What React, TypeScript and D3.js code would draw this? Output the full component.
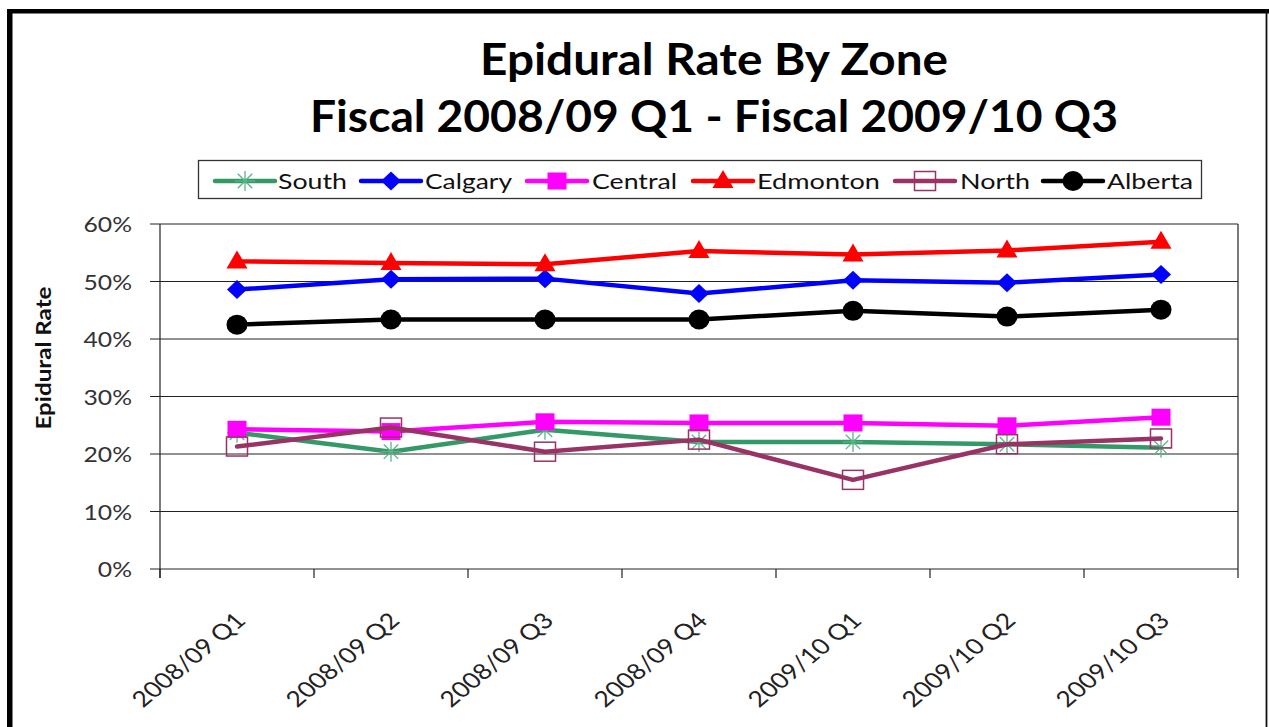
import React from 'react';
import * as d3 from 'd3';

const categories = ['2008/09 Q1', '2008/09 Q2', '2008/09 Q3', '2008/09 Q4', '2009/10 Q1', '2009/10 Q2', '2009/10 Q3'];
const south = [23.7, 20.4, 24.2, 22.1, 22.1, 21.7, 21.1];
const calgary = [48.6, 50.4, 50.5, 47.9, 50.2, 49.8, 51.2];
const central = [24.3, 23.9, 25.6, 25.4, 25.4, 24.9, 26.4];
const edmonton = [53.5, 53.2, 53.0, 55.3, 54.7, 55.4, 56.9];
const north = [21.3, 24.6, 20.4, 22.5, 15.5, 21.7, 22.7];
const alberta = [42.5, 43.4, 43.4, 43.4, 44.9, 43.9, 45.1];
const yTicks = [0, 10, 20, 30, 40, 50, 60];
const seriesNames = ['South', 'Calgary', 'Central', 'Edmonton', 'North', 'Alberta'];
const seriesValues = [south, calgary, central, edmonton, north, alberta];
const seriesColors = ['#339966', '#0000FF', '#FF00FF', '#FF0000', '#993366', '#000000'];
const seriesMarkers = ['asterisk', 'diamond', 'square', 'triangle', 'hollowSquare', 'circle'];
const titleLines = ['Epidural Rate By Zone', 'Fiscal 2008/09 Q1 - Fiscal 2009/10 Q3'];
const yAxisTitle = 'Epidural Rate';

const W = 1269;
const H = 727;
const FONT = "Lato, 'Open Sans', 'DejaVu Sans', sans-serif";
const plot = { left: 160, right: 1238, top: 224, bottom: 569 };

const x = d3.scaleBand<string>().domain(categories).range([plot.left, plot.right]).padding(0);
const y = d3.scaleLinear().domain([0, 60]).range([plot.bottom, plot.top]);
const cx = (c: string) => (x(c) as number) + x.bandwidth() / 2;

function Marker({ type, color, px, py }: { type: string; color: string; px: number; py: number }) {
  switch (type) {
    case 'asterisk': {
      const r = 10;
      const c = '#5cb487';
      return (
        <g stroke={c} strokeWidth={1.3}>
          <line x1={px - r} y1={py} x2={px + r} y2={py} />
          <line x1={px} y1={py - r} x2={px} y2={py + r} />
          <line x1={px - r * 0.72} y1={py - r * 0.72} x2={px + r * 0.72} y2={py + r * 0.72} />
          <line x1={px - r * 0.72} y1={py + r * 0.72} x2={px + r * 0.72} y2={py - r * 0.72} />
        </g>
      );
    }
    case 'diamond':
      return <path d={`M${px},${py - 9.5}L${px + 10},${py}L${px},${py + 9.5}L${px - 10},${py}Z`} fill={color} />;
    case 'square':
      return <rect x={px - 9.5} y={py - 8.5} width={19} height={17} fill={color} />;
    case 'triangle':
      return <path d={`M${px},${py - 11}L${px + 10.5},${py + 7}L${px - 10.5},${py + 7}Z`} fill={color} />;
    case 'hollowSquare':
      return <rect x={px - 10.5} y={py - 9.5} width={21} height={19} fill="none" stroke={color} strokeWidth={1.5} />;
    case 'circle':
      return <ellipse cx={px} cy={py} rx={10.5} ry={10} fill={color} />;
    default:
      return null;
  }
}

const legendItems = [
  { lx: 215, tx: 278, tw: 69 },
  { lx: 361, tx: 425, tw: 87 },
  { lx: 527, tx: 592, tw: 85 },
  { lx: 693, tx: 757, tw: 123 },
  { lx: 895, tx: 960, tw: 70 },
  { lx: 1043, tx: 1107, tw: 86 },
];

export default function App() {
  const line = d3
    .line<number>()
    .x((_, i) => cx(categories[i]))
    .y((d) => y(d));

  return (
    <svg width={W} height={H} style={{ position: 'absolute', left: 0, top: 0, background: '#fff' }} fontFamily={FONT}>
      <rect x={0} y={0} width={W} height={H} fill="#fff" />
      {/* outer frame */}
      <rect x={7} y={9} width={5.5} height={H} fill="#000" />
      <rect x={7} y={9} width={W - 7} height={4.5} fill="#000" />
      <line x1={1266.5} y1={9} x2={1266.5} y2={H} stroke="#111" strokeWidth={1.8} />

      {/* title */}
      <text x={714} y={75} textAnchor="middle" fontSize={43} fontWeight="bold" textLength={468} lengthAdjust="spacingAndGlyphs">
        {titleLines[0]}
      </text>
      <text x={714} y={132} textAnchor="middle" fontSize={43} fontWeight="bold" textLength={808} lengthAdjust="spacingAndGlyphs">
        {titleLines[1]}
      </text>

      {/* legend */}
      <rect x={198.5} y={160.5} width={1003} height={38} fill="#fff" stroke="#333" strokeWidth={1.3} />
      {seriesNames.map((name, i) => {
        const it = legendItems[i];
        return (
          <g key={name}>
            <line x1={it.lx} y1={181} x2={it.lx + 60} y2={181} stroke={seriesColors[i]} strokeWidth={4.5} strokeLinecap="round" />
            <Marker type={seriesMarkers[i]} color={seriesColors[i]} px={it.lx + 30} py={181} />
            <text x={it.tx} y={189} fontSize={22} fill="#111" textLength={it.tw} lengthAdjust="spacingAndGlyphs">
              {name}
            </text>
          </g>
        );
      })}

      {/* gridlines and y ticks */}
      {yTicks.map((t) => (
        <g key={t}>
          <line x1={150} x2={plot.right} y1={y(t)} y2={y(t)} stroke="#222" strokeWidth={1} />
          <text
            transform={`translate(132,${y(t)}) scale(1.15,1)`}
            textAnchor="end"
            dominantBaseline="central"
            fontSize={21.5}
            fill="#333"
          >
            {`${t}%`}
          </text>
        </g>
      ))}
      {/* axes */}
      <line x1={plot.left} x2={plot.left} y1={plot.top} y2={plot.bottom + 9} stroke="#222" strokeWidth={1.2} />
      <line x1={plot.right} x2={plot.right} y1={plot.top} y2={plot.bottom + 9} stroke="#222" strokeWidth={1.2} />
      {categories.map((c) => (
        <line key={c} x1={x(c) as number} x2={x(c) as number} y1={plot.bottom} y2={plot.bottom + 9} stroke="#222" strokeWidth={1.2} />
      ))}

      {/* x labels */}
      {categories.map((c) => (
        <text
          key={c}
          transform={`translate(${cx(c) + 10},622) scale(1.2,1) rotate(-45)`}
          textAnchor="end"
          fontSize={22}
          fill="#222"
        >
          {c}
        </text>
      ))}

      {/* y axis title */}
      <text transform="translate(51,358) rotate(-90)" textAnchor="middle" fontSize={21} fontWeight="bold" fill="#111" textLength={143} lengthAdjust="spacingAndGlyphs">
        {yAxisTitle}
      </text>

      {/* series */}
      {seriesValues.map((vals, i) => (
        <g key={seriesNames[i]}>
          <path d={line(vals) as string} fill="none" stroke={seriesColors[i]} strokeWidth={4.5} strokeLinejoin="round" strokeLinecap="round" />
          {vals.map((v, j) => (
            <Marker key={j} type={seriesMarkers[i]} color={seriesColors[i]} px={cx(categories[j])} py={y(v)} />
          ))}
        </g>
      ))}
    </svg>
  );
}
